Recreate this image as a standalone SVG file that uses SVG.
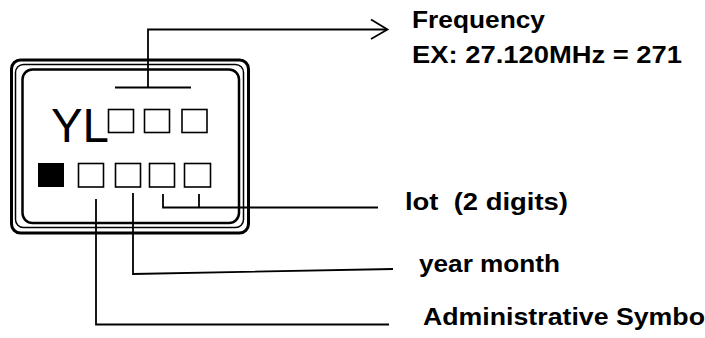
<svg xmlns="http://www.w3.org/2000/svg" width="705" height="338" viewBox="0 0 705 338">
<style>
.frame{fill:none;stroke:#000}
.box{fill:#fff;stroke:#000;stroke-width:1.6}
.conn{fill:none;stroke:#000;stroke-width:1.8;stroke-linecap:butt}
.lbl{font-family:"Liberation Sans",Arial,sans-serif;font-weight:bold;font-size:23px;fill:#000;white-space:pre}
.mark{font-family:"Liberation Sans",Arial,sans-serif;font-size:48px;fill:#000}
</style>
<rect width="705" height="338" fill="#fff"/>
<g id="chip">
<rect class="frame" x="11.5" y="60" width="237" height="173" rx="9" stroke-width="3"/>
<rect class="frame" x="15.5" y="64.5" width="228" height="163" rx="8" stroke-width="1.5"/>
<rect class="frame" x="22.5" y="69.5" width="216.5" height="153.5" rx="10" stroke-width="2.5"/>
<text class="mark" x="51" y="142" textLength="58" lengthAdjust="spacingAndGlyphs">YL</text>
<rect class="box" x="108.5" y="109.5" width="25" height="23"/>
<rect class="box" x="144.5" y="109.5" width="25" height="23"/>
<rect class="box" x="182" y="109.5" width="25" height="23"/>
<rect x="38" y="163" width="26" height="24" fill="#000"/>
<rect class="box" x="78.5" y="163.5" width="25" height="23.5"/>
<rect class="box" x="115.5" y="163.5" width="25" height="23.5"/>
<rect class="box" x="149.5" y="163.5" width="25" height="23.5"/>
<rect class="box" x="184.5" y="163.5" width="26" height="23.5"/>
</g>
<g id="connectors">
<path class="conn" d="M115 87.5H191M148 87.5V29.5H387"/>
<path class="conn" d="M371 19.5L387.5 29.5L371 39" stroke-width="2"/>
<path class="conn" d="M163 194V207.5H378M199 194V207.5"/>
<path class="conn" d="M133 193V274L393 269"/>
<path class="conn" d="M96 199V324.5H389"/>
</g>
<g id="label-frequency">
<text class="lbl" x="412" y="28" textLength="133" lengthAdjust="spacingAndGlyphs">Frequency</text>
<text class="lbl" x="412" y="63" textLength="270" lengthAdjust="spacingAndGlyphs">EX: 27.120MHz = 271</text>
</g>
<g id="label-lot">
<text class="lbl" x="405" y="210" xml:space="preserve" textLength="163" lengthAdjust="spacingAndGlyphs">lot  (2 digits)</text>
</g>
<g id="label-yearmonth">
<text class="lbl" x="419" y="272" textLength="141" lengthAdjust="spacingAndGlyphs">year month</text>
</g>
<g id="label-admin">
<text class="lbl" x="423" y="325" textLength="282" lengthAdjust="spacingAndGlyphs">Administrative Symbo</text>
</g>
</svg>
